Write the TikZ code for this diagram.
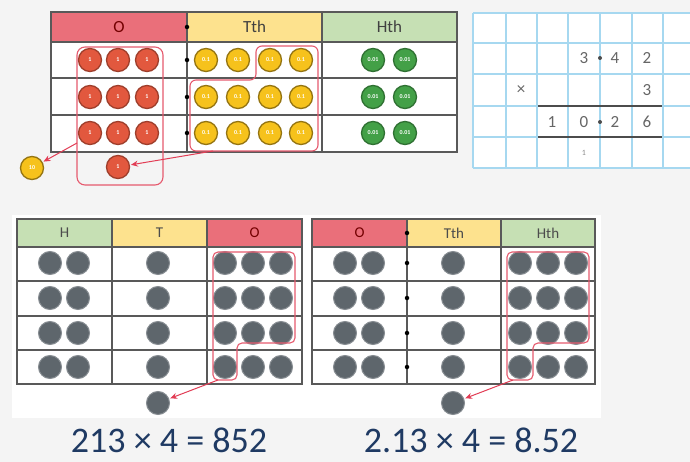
\documentclass[tikz,border=0pt]{standalone}
\usepackage{fontspec}
\setmainfont{Carlito}
\usetikzlibrary{arrows.meta, positioning, calc}
\usepackage{xcolor}
\definecolor{bggray}{HTML}{F4F4F4}
\definecolor{hdrred}{HTML}{EA6F7A}
\definecolor{hdryellow}{HTML}{FDE28E}
\definecolor{hdrgreen}{HTML}{C6E0B4}
\definecolor{gridblue}{HTML}{A6D8F0}
\definecolor{linkred}{HTML}{E23D55}
\definecolor{cntred}{HTML}{E2583E}
\definecolor{cntyellow}{HTML}{F6C21C}
\definecolor{cntgreen}{HTML}{43A047}
\definecolor{cntgray}{HTML}{5E666C}
\definecolor{eqblue}{HTML}{1F3A63}

\begin{document}
\begin{tikzpicture}[
    x=1pt, y=-1pt,
    hdr/.style={rectangle, inner sep=0pt, minimum height=30pt, font=\fontsize{17}{17}\selectfont},
    bhdr/.style={hdr, minimum height=28pt, minimum width=95pt, font=\fontsize{15}{15}\selectfont},
    tab/.style={draw=black!65, line width=1.2pt},
    cnt/.style={circle, inner sep=0pt, minimum size=23pt, line width=1.3pt, text=white,
                font=\fontsize{6}{6}\selectfont\bfseries},
    redcnt/.style={cnt, fill=cntred, draw=cntred!70!black},
    ylwcnt/.style={cnt, fill=cntyellow, draw=cntyellow!60!black},
    grncnt/.style={cnt, fill=cntgreen, draw=cntgreen!70!black},
    graycnt/.style={circle, inner sep=0pt, minimum size=23pt, fill=cntgray, draw=cntgray!75!white, line width=1pt},
    grp/.style={draw=linkred!85!white, line width=1.1pt, rounded corners=6pt},
    arr/.style={-{Stealth[length=7pt, width=6pt]}, line width=1pt, draw=linkred, shorten >=1pt},
    pnt/.style={circle, fill=black, inner sep=0pt, minimum size=4.5pt},
    digit/.style={font=\fontsize{17}{17}\selectfont, text=black!60},
    eq/.style={font=\fontsize{36}{36}\selectfont, text=eqblue}
]
\fill[bggray] (0,0) rectangle (690,462);
\useasboundingbox (0,0) rectangle (690,462);
\fill[white] (12,215) rectangle (601,418);

% place value table with counters
\fill[white] (51,42) rectangle (457,152);
\node[hdr, fill=hdrred, minimum width=136pt, text=red!45!black] (topO) at (119,27) {O};
\node[hdr, fill=hdryellow, minimum width=135pt, text=black!75] (topTth) at (254.5,27) {Tth};
\node[hdr, fill=hdrgreen, minimum width=135pt, text=black!75] (topHth) at (389.5,27) {Hth};
\draw[tab] (51,12) rectangle (457,152);
\foreach \y in {42,78,115} \draw[tab] (51,\y) -- (457,\y);
\draw[tab] (187,12) -- (187,152);
\draw[tab] (322,12) -- (322,152);
\foreach \y in {27,60,97,133} \node[pnt] at (187,\y) {};

\foreach \r/\y in {1/60,2/97,3/133} {
  \foreach \c/\x in {1/90,2/118,3/147} \node[redcnt] (o\r\c) at (\x,\y) {1};
  \foreach \c/\x in {1/206,2/238,3/270,4/301} \node[ylwcnt] (t\r\c) at (\x,\y) {0.1};
  \foreach \c/\x in {1/373,2/405} \node[grncnt] (h\r\c) at (\x,\y) {0.01};
}
\node[redcnt] (onecarry) at (118,167) {1};
\node[ylwcnt] (tencarry) at (32,168) {10};

\draw[grp, rounded corners=8pt] (77,47) rectangle (163,185);
\draw[grp] (256,46) -- (318,46) -- (318,151) -- (190,151) -- (190,80) -- (256,80) -- cycle;
\coordinate (tthout) at (213,151);
\coordinate (oout) at (77,143);
\draw[arr] (tthout) -- (onecarry);
\draw[arr] (oout) -- (tencarry);

% squared paper
\fill[white] (473,13) rectangle (690,168);
\foreach \y in {13,43,74,106,137,168} \draw[gridblue, line width=1.2pt] (473,\y) -- (690,\y);
\foreach \x in {473,506,537,568,600,632,663} \draw[gridblue, line width=1.2pt] (\x,13) -- (\x,168);
\node[digit] (a1) at (584,58) {3};
\node[digit] (a2) at (615,58) {4};
\node[digit] (a3) at (647,58) {2};
\node[digit] (times) at (521,90) {×};
\node[digit] (b1) at (647,90) {3};
\node[digit] (c1) at (552,122) {1};
\node[digit] (c2) at (584,122) {0};
\node[digit] (c3) at (615,122) {2};
\node[digit] (c4) at (647,122) {6};
\node[pnt, fill=black!70, minimum size=4pt] (apt) at (600,58) {};
\node[pnt, fill=black!70, minimum size=4pt] (cpt) at (600,122) {};
\node[font=\fontsize{8}{8}\selectfont, text=black!45] (carry) at (584,153) {1};
\draw[black!70, line width=2pt] (538,106) -- (662,106);
\draw[black!70, line width=2pt] (538,137) -- (662,137);

% whole numbers
\node[bhdr, fill=hdrgreen, text=black!70] (lH) at (64.5,233) {H};
\node[bhdr, fill=hdryellow, text=black!70] (lT) at (159.5,233) {T};
\node[bhdr, fill=hdrred, text=red!45!black] (lO) at (254.5,233) {O};
\draw[tab] (17,219) rectangle (302,384);
\foreach \y in {247,281,316,350} \draw[tab] (17,\y) -- (302,\y);
\draw[tab] (112,219) -- (112,384);
\draw[tab] (207,219) -- (207,384);
\foreach \r/\y in {1/263,2/298,3/333,4/367} {
  \foreach \c/\x in {1/50,2/78,3/158,4/225,5/253,6/281} \node[graycnt] (l\r\c) at (\x,\y) {};
}
\node[graycnt] (lcarry) at (158,403) {};
\draw[grp, rounded corners=5pt] (213,252) -- (295,252) -- (295,343) -- (237,343) -- (237,380) -- (213,380) -- cycle;
\coordinate (lout) at (218,380);
\draw[arr] (lout) -- (lcarry);
\node[eq] (leq) at (169,440) {213 × 4 = 852};

% decimals
\node[bhdr, fill=hdrred, text=red!45!black] (rO) at (359.5,233) {O};
\node[bhdr, fill=hdryellow, minimum width=94pt, text=black!70] (rTth) at (454,233) {Tth};
\node[bhdr, fill=hdrgreen, minimum width=94pt, text=black!70] (rHth) at (548,233) {Hth};
\draw[tab] (312,219) rectangle (595,384);
\foreach \y in {247,281,316,350} \draw[tab] (312,\y) -- (595,\y);
\draw[tab] (407,219) -- (407,384);
\draw[tab] (501,219) -- (501,384);
\foreach \y in {233,263,298,333,367} \node[pnt] at (407,\y) {};
\foreach \r/\y in {1/263,2/298,3/333,4/367} {
  \foreach \c/\x in {1/345,2/373,3/453,4/520,5/548,6/576} \node[graycnt] (r\r\c) at (\x,\y) {};
}
\node[graycnt] (rcarry) at (453,403) {};
\draw[grp, rounded corners=5pt] (507,252) -- (589,252) -- (589,343) -- (533,343) -- (533,380) -- (507,380) -- cycle;
\coordinate (rout) at (513,380);
\draw[arr] (rout) -- (rcarry);
\node[eq] (req) at (471,440) {2.13 × 4 = 8.52};
\end{tikzpicture}
\end{document}
